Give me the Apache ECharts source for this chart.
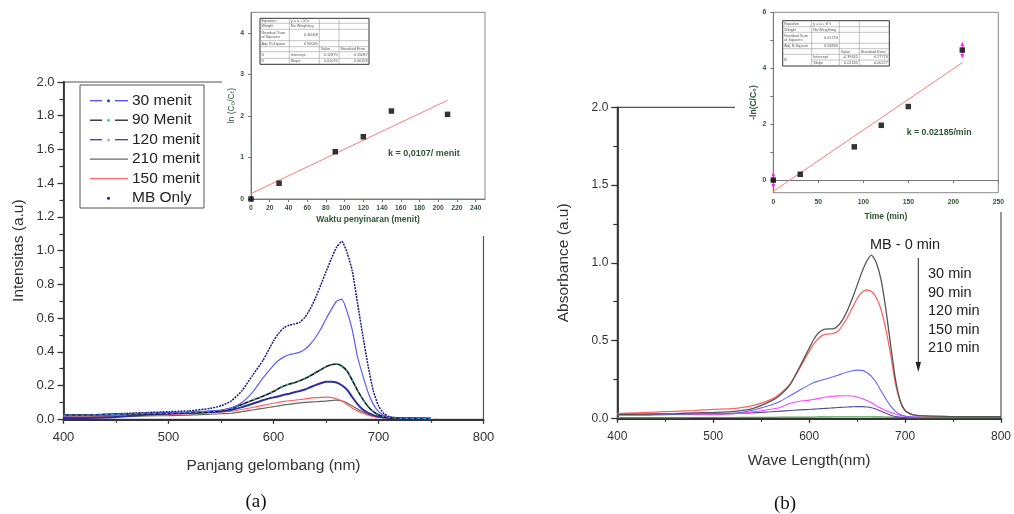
<!DOCTYPE html>
<html>
<head>
<meta charset="utf-8">
<script src="https://cdn.jsdelivr.net/npm/echarts@6/dist/echarts.min.js"></script>
<style>
  html, body { margin: 0; padding: 0; background: #fff; }
  #chart { width: 1014px; height: 514px; }
</style>
</head>
<body>
<div id="chart"></div>
<script>
// ---------- Panel (a): emission spectra vs irradiation time ----------
const wavelengthA = [400,420,440,460,480,500,520,540,550,560,570,580,590,600,605,610,615,620,625,630,635,640,645,650,655,660,665,670,675,680,685,690,695,700,705,710,720,730,740,750];
const mbOnlyA  = [0.025,0.025,0.03,0.035,0.04,0.045,0.05,0.065,0.08,0.11,0.17,0.26,0.35,0.465,0.51,0.543,0.558,0.565,0.575,0.605,0.655,0.72,0.795,0.875,0.95,1.02,1.055,0.99,0.88,0.69,0.5,0.32,0.17,0.08,0.035,0.016,0.008,0.006,0.005,0.005];
const min30A   = [0.02,0.022,0.027,0.032,0.037,0.04,0.043,0.05,0.055,0.068,0.1,0.16,0.245,0.32,0.35,0.37,0.383,0.39,0.398,0.415,0.445,0.485,0.535,0.595,0.65,0.7,0.712,0.64,0.53,0.37,0.26,0.16,0.09,0.045,0.024,0.012,0.008,0.006,0.005,0.004];
const min90A   = [0.025,0.025,0.028,0.03,0.033,0.035,0.04,0.045,0.052,0.065,0.088,0.113,0.137,0.165,0.183,0.198,0.209,0.217,0.228,0.242,0.258,0.276,0.294,0.311,0.323,0.328,0.316,0.286,0.232,0.172,0.12,0.076,0.046,0.027,0.016,0.01,0.006,0.005,0.005,0.004];
const min120A  = [0.008,0.008,0.01,0.018,0.028,0.035,0.038,0.043,0.048,0.057,0.072,0.092,0.113,0.13,0.137,0.145,0.152,0.16,0.168,0.177,0.19,0.203,0.214,0.222,0.223,0.218,0.202,0.176,0.132,0.09,0.058,0.038,0.025,0.017,0.012,0.009,0.006,0.005,0.005,0.004];
const min150A  = [0.02,0.02,0.02,0.022,0.025,0.028,0.032,0.038,0.042,0.048,0.058,0.07,0.083,0.095,0.101,0.106,0.11,0.113,0.117,0.121,0.125,0.128,0.13,0.131,0.13,0.122,0.11,0.088,0.066,0.05,0.036,0.025,0.017,0.012,0.009,0.008,0.006,0.005,0.005,0.004];
const min210A  = [0.015,0.015,0.017,0.018,0.02,0.022,0.025,0.03,0.033,0.036,0.045,0.055,0.065,0.075,0.08,0.085,0.089,0.093,0.097,0.1,0.102,0.104,0.106,0.108,0.111,0.114,0.11,0.097,0.079,0.061,0.045,0.03,0.019,0.012,0.009,0.008,0.006,0.005,0.005,0.004];
const legendNamesA = ['30 menit', '90 Menit', '120 menit', '210 menit', '150 menit', 'MB Only'];

// Kinetics inset (a)
const timeA = [0, 30, 90, 120, 150, 210];
const lnRatioA = [0, 0.38, 1.14, 1.5, 2.12, 2.04];
const fitTimeA = [0, 210];
const fitLineA = [0.13, 2.38];
const kLabelA = 'k = 0,0107/ menit';
const tableA = [
  ['Equation', 'y = a + b*x', '', ''],
  ['Weight', 'No Weighting', '', ''],
  ['Residual Sum\nof Squares', '0.30068', '', ''],
  ['Adj. R-Square', '0.90045', '', ''],
  ['', '', 'Value', 'Standard Error'],
  ['D', 'Intercept', '0.12875', '0.15087'],
  ['D', 'Slope', '0.01076', '0.00158']
];

// ---------- Panel (b): absorbance spectra vs time ----------
const wavelengthB = [400,420,440,460,480,500,520,540,560,570,580,590,600,605,610,615,620,625,630,635,640,645,650,655,660,665,670,675,680,685,690,695,700,705,710,720,740,760,780,800];
const mb0B    = [0.025,0.025,0.028,0.03,0.035,0.038,0.043,0.06,0.11,0.15,0.215,0.33,0.45,0.51,0.55,0.57,0.575,0.575,0.595,0.635,0.695,0.77,0.855,0.94,1.01,1.05,1.0,0.89,0.7,0.47,0.25,0.11,0.05,0.03,0.02,0.015,0.012,0.01,0.01,0.01];
const min30B  = [0.03,0.035,0.04,0.045,0.05,0.058,0.062,0.08,0.12,0.16,0.22,0.32,0.43,0.48,0.515,0.537,0.542,0.546,0.56,0.6,0.65,0.71,0.77,0.81,0.825,0.815,0.775,0.7,0.57,0.41,0.22,0.11,0.05,0.03,0.02,0.015,0.012,0.01,0.01,0.01];
const min90B  = [0.02,0.02,0.022,0.025,0.028,0.03,0.032,0.05,0.085,0.11,0.145,0.18,0.215,0.23,0.24,0.25,0.258,0.267,0.277,0.288,0.298,0.306,0.31,0.308,0.295,0.27,0.23,0.175,0.125,0.078,0.045,0.025,0.015,0.01,0.008,0.007,0.006,0.005,0.005,0.005];
const min120B = [0.025,0.025,0.025,0.025,0.025,0.025,0.03,0.04,0.058,0.07,0.095,0.11,0.117,0.122,0.128,0.134,0.139,0.142,0.144,0.145,0.145,0.143,0.137,0.128,0.115,0.1,0.08,0.065,0.05,0.038,0.028,0.018,0.012,0.009,0.008,0.007,0.006,0.005,0.005,0.006];
const min150B = [0.03,0.028,0.027,0.026,0.026,0.027,0.03,0.035,0.042,0.046,0.05,0.054,0.057,0.059,0.061,0.063,0.065,0.067,0.069,0.071,0.073,0.074,0.075,0.075,0.073,0.068,0.058,0.045,0.032,0.02,0.012,0.008,0.006,0.005,0.005,0.005,0.005,0.005,0.005,0.005];
const min210B = [0.004,0.004,0.004,0.004,0.005,0.005,0.005,0.006,0.006,0.007,0.007,0.008,0.008,0.008,0.009,0.009,0.009,0.01,0.01,0.01,0.01,0.01,0.01,0.01,0.01,0.01,0.009,0.009,0.008,0.007,0.006,0.005,0.005,0.004,0.004,0.004,0.004,0.004,0.004,0.004];
const headLabelB = 'MB - 0 min';
const timeLabelsB = ['30 min', '90 min', '120 min', '150 min', '210 min'];

// Kinetics inset (b)
const timeB = [0, 30, 90, 120, 150, 210];
const lnRatioB = [0, 0.21, 1.19, 1.96, 2.63, 4.65];
const fitTimeB = [0, 210];
const fitLineB = [-0.4, 4.2];
const errTimeB = [0, 210];
const errCenterB = [0, 4.65];
const errHalfB = [0.28, 0.28];
const kLabelB = 'k = 0.02185/min';
const tableB = [
  ['Equation', 'y = a + b*x', '', ''],
  ['Weight', 'No Weighting', '', ''],
  ['Residual Sum\nof Squares', '0.61718', '', ''],
  ['Adj. R-Square', '0.94836', '', ''],
  ['', '', 'Value', 'Standard Error'],
  ['B', 'Intercept', '-0.39445', '0.27776'],
  ['', 'Slope', '0.02185', '0.00227']
];

const SANS = '"Liberation Sans", Arial, Helvetica, sans-serif';
const SUBS = '"Liberation Sans", "DejaVu Sans", Arial, sans-serif';
const GREEN = '#2f5530';

const pairs = (xs, ys) => xs.map((x, i) => [x, ys[i]]);

function mainX(grid, nameGap, name, fontSize) {
  return {
    type: 'value', gridIndex: grid, min: 400, max: 800, interval: 100,
    name: name, nameLocation: 'middle', nameGap: nameGap,
    nameTextStyle: { fontFamily: SANS, fontSize: 15.5, color: '#333' },
    axisLine: { show: true, lineStyle: { color: '#333', width: 1.8 } },
    axisTick: { show: true, inside: false, length: 4.5, lineStyle: { color: '#333', width: 1.3 } },
    minorTick: { show: true, splitNumber: 2, length: 3.5, lineStyle: { color: '#333', width: 1.2 } },
    axisLabel: { fontFamily: SANS, fontSize: fontSize, color: '#333', margin: 12 },
    splitLine: { show: false }
  };
}
function mainY(grid, interval, nameGap, name, fontSize, minor) {
  return {
    type: 'value', gridIndex: grid, min: 0, max: 2.0, interval: interval,
    name: name, nameLocation: 'middle', nameGap: nameGap, nameRotate: 90,
    nameTextStyle: { fontFamily: SANS, fontSize: 15.5, color: '#333' },
    axisLine: { show: true, lineStyle: { color: '#333', width: 1.8 } },
    axisTick: { show: true, inside: false, length: 6, lineStyle: { color: '#333', width: 1.3 } },
    minorTick: { show: true, splitNumber: minor, length: 4, lineStyle: { color: '#333', width: 1.2 } },
    axisLabel: { fontFamily: SANS, fontSize: fontSize, color: '#333', margin: 9, formatter: v => v.toFixed(1) },
    splitLine: { show: false }
  };
}
function insetAxisStyle() {
  return {
    axisLine: { show: true, lineStyle: { color: '#777', width: 1 } },
    axisTick: { show: true, inside: false, length: 3, lineStyle: { color: '#777', width: 1 } },
    splitLine: { show: false }
  };
}

function lineSeries(x, y, name, xs, ys, color, width, extra) {
  return Object.assign({
    type: 'line', name: name, xAxisIndex: x, yAxisIndex: y,
    data: pairs(xs, ys), showSymbol: false, symbol: 'none',
    smooth: 0.2, z: 2,
    lineStyle: { color: color, width: width }
  }, extra || {});
}

// Stats tables drawn in the insets
function tableGraphic(colX, rowY, cells, mergeFirstCol) {
  const els = [];
  const L = colX[0], R = colX[colX.length - 1], T = rowY[0], B = rowY[rowY.length - 1];
  els.push({ type: 'rect', z: 20, shape: { x: L, y: T, width: R - L, height: B - T },
    style: { fill: '#fff', stroke: '#333', lineWidth: 1 } });
  for (let i = 1; i < rowY.length - 1; i++) {
    const startX = (mergeFirstCol && i === rowY.length - 2) ? colX[1] : L;
    els.push({ type: 'line', z: 21, shape: { x1: startX, y1: rowY[i], x2: R, y2: rowY[i] },
      style: { stroke: '#9a9a9a', lineWidth: 0.6 } });
  }
  for (let j = 1; j < colX.length - 1; j++) {
    els.push({ type: 'line', z: 21, shape: { x1: colX[j], y1: T, x2: colX[j], y2: B },
      style: { stroke: '#9a9a9a', lineWidth: 0.6 } });
  }
  cells.forEach((row, i) => row.forEach((t, j) => {
    if (!t) return;
    let cy = (rowY[i] + rowY[i + 1]) / 2;
    if (mergeFirstCol && j === 0 && i === rowY.length - 3) cy = rowY[i + 1];
    const numeric = /^-?[0-9.]+$/.test(t);
    els.push({ type: 'text', z: 22,
      x: numeric ? colX[j + 1] - 1.5 : colX[j] + 1.5, y: cy,
      style: { text: t, fontSize: 3.8, lineHeight: 4.4, fontFamily: SANS, fill: '#555',
        align: numeric ? 'right' : 'left', verticalAlign: 'middle' } });
  }));
  return els;
}

// Custom legend for panel (a)
const legendStylesA = [
  { color: '#4a4aff', sym: 'dot', symColor: '#2f2fff' },
  { color: '#222222', sym: 'dot', symColor: '#22d5d5' },
  { color: '#3c3ca8', sym: 'tri', symColor: '#b0b0b0' },
  { color: '#666666', sym: null },
  { color: '#ff6a6a', sym: null },
  { color: null, sym: 'dot', symColor: '#1c1c7a' }
];
function legendGraphicA() {
  const els = [{ type: 'rect', z: 10, shape: { x: 80, y: 85, width: 124, height: 123 },
    style: { fill: '#fff', stroke: '#555', lineWidth: 1 } }];
  legendNamesA.forEach((name, i) => {
    const st = legendStylesA[i];
    const cy = 100.7 + i * 19.5;
    if (st.color) {
      if (st.sym) {
        els.push({ type: 'line', z: 11, shape: { x1: 90, y1: cy, x2: 102, y2: cy },
          style: { stroke: st.color, lineWidth: 1.3 } });
        els.push({ type: 'line', z: 11, shape: { x1: 115, y1: cy, x2: 128, y2: cy },
          style: { stroke: st.color, lineWidth: 1.3 } });
      } else {
        els.push({ type: 'line', z: 11, shape: { x1: 90, y1: cy, x2: 128, y2: cy },
          style: { stroke: st.color, lineWidth: 1.2 } });
      }
    }
    if (st.sym === 'dot') {
      els.push({ type: 'circle', z: 12, shape: { cx: 108.5, cy: cy, r: 1.5 }, style: { fill: st.symColor } });
    } else if (st.sym === 'tri') {
      els.push({ type: 'polygon', z: 12, shape: { points: [[106.5, cy + 1.5], [110.5, cy + 1.5], [108.5, cy - 2]] },
        style: { fill: st.symColor } });
    }
    els.push({ type: 'text', z: 12, x: 132, y: cy,
      style: { text: name, fontSize: 15.5, fontFamily: SANS, fill: '#222', verticalAlign: 'middle' } });
  });
  return els;
}

function annotationGraphicB() {
  const els = [];
  els.push({ type: 'text', z: 12, x: 870, y: 245,
    style: { text: headLabelB, fontSize: 14.5, fontFamily: SANS, fill: '#222', verticalAlign: 'middle' } });
  timeLabelsB.forEach((t, i) => {
    els.push({ type: 'text', z: 12, x: 928, y: 274 + i * 18.6,
      style: { text: t, fontSize: 14.5, fontFamily: SANS, fill: '#222', verticalAlign: 'middle' } });
  });
  els.push({ type: 'line', z: 12, shape: { x1: 918.3, y1: 258, x2: 918.3, y2: 364 },
    style: { stroke: '#222', lineWidth: 1 } });
  els.push({ type: 'polygon', z: 12, shape: { points: [[915.6, 362], [921, 362], [918.3, 372]] },
    style: { fill: '#222' } });
  return els;
}

const chart = echarts.init(document.getElementById('chart'), null, { renderer: 'canvas' });

const option = {
  animation: false,
  backgroundColor: '#fff',
  grid: [
    { left: 63.5, top: 82, width: 420, height: 337.3, show: true, borderColor: '#555', borderWidth: 1.2, backgroundColor: 'transparent', z: 0 },
    { left: 251, top: 12.3, width: 234, height: 186.7, show: true, borderColor: '#888', borderWidth: 1, backgroundColor: '#fff', z: 4 },
    { left: 617.3, top: 107.3, width: 387, height: 311, show: true, borderColor: '#555', borderWidth: 1.2, backgroundColor: 'transparent', z: 0 },
    { left: 773.3, top: 12.3, width: 225, height: 180.4, show: true, borderColor: '#888', borderWidth: 1, backgroundColor: '#fff', z: 4 }
  ],
  xAxis: [
    mainX(0, 38, 'Panjang gelombang (nm)', 13),
    Object.assign({
      type: 'value', gridIndex: 1, min: 0, max: 250, z: 5,
      name: 'Waktu penyinaran (menit)', nameLocation: 'middle', nameGap: 16,
      nameTextStyle: { fontFamily: SANS, fontSize: 8.5, fontWeight: 'bold', color: GREEN },
      axisLabel: { fontFamily: SANS, fontSize: 6.8, fontWeight: 'bold', color: GREEN, margin: 6,
        customValues: [0,20,40,60,80,100,120,140,160,180,200,220,240] }
    }, insetAxisStyle(), { axisTick: { show: true, length: 3, lineStyle: { color: '#777' },
        customValues: [0,20,40,60,80,100,120,140,160,180,200,220,240] } }),
    mainX(2, 34, 'Wave Length(nm)', 12),
    Object.assign({
      type: 'value', gridIndex: 3, min: 0, max: 250, interval: 50, z: 5,
      name: 'Time (min)', nameLocation: 'middle', nameGap: 19,
      nameTextStyle: { fontFamily: SANS, fontSize: 8.5, fontWeight: 'bold', color: GREEN },
      axisLabel: { fontFamily: SANS, fontSize: 6.8, fontWeight: 'bold', color: GREEN, margin: 6 }
    }, insetAxisStyle())
  ],
  yAxis: [
    mainY(0, 0.2, 37, 'Intensitas (a.u)', 13, 2),
    Object.assign({
      type: 'value', gridIndex: 1, min: 0, max: 4.5, z: 5,
      name: 'ln (C\u2080/C\u209c)', nameLocation: 'middle', nameGap: 15, nameRotate: 90,
      nameTextStyle: { fontFamily: SUBS, fontSize: 8.5, color: GREEN },
      axisLabel: { fontFamily: SANS, fontSize: 6.8, fontWeight: 'bold', color: GREEN, margin: 7,
        customValues: [0, 1, 2, 3, 4] }
    }, insetAxisStyle(), { axisTick: { show: true, length: 3, lineStyle: { color: '#777' },
        customValues: [0, 1, 2, 3, 4] } }),
    mainY(2, 0.5, 46, 'Absorbance (a.u)', 12, 2),
    Object.assign({
      type: 'value', gridIndex: 3, min: -0.45, max: 6, z: 5,
      name: '-ln(C/C\u2080)', nameLocation: 'middle', nameGap: 15, nameRotate: 90,
      nameTextStyle: { fontFamily: SUBS, fontSize: 8.5, fontWeight: 'bold', color: GREEN },
      axisLabel: { fontFamily: SANS, fontSize: 6.8, fontWeight: 'bold', color: GREEN, margin: 7,
        customValues: [0, 2, 4, 6] }
    }, insetAxisStyle(), { axisTick: { show: true, length: 3, lineStyle: { color: '#777' },
        customValues: [0, 1, 2, 3, 4, 5, 6] } })
  ],
  series: [
    // panel (a) spectra
    lineSeries(0, 0, '210 menit', wavelengthA, min210A, '#666666', 1.2),
    lineSeries(0, 0, '150 menit', wavelengthA, min150A, '#ff5a5a', 1.2),
    lineSeries(0, 0, '120 menit', wavelengthA, min120A, '#2e2e9e', 2),
    lineSeries(0, 0, '90 Menit', wavelengthA, min90A, '#1a1a1a', 1.6),
    lineSeries(0, 0, '90 Menit markers', wavelengthA, min90A, '#1fc4c4', 1.2,
      { lineStyle: { color: '#1fc4c4', width: 1.1, type: [2, 4] }, z: 3 }),
    lineSeries(0, 0, '30 menit', wavelengthA, min30A, '#5c5cff', 1.2),
    lineSeries(0, 0, 'MB Only', wavelengthA, mbOnlyA, '#1c1c7a', 1.5,
      { lineStyle: { color: '#1c1c7a', width: 1.5, type: [2, 1] } }),

    // inset (a)
    { type: 'line', xAxisIndex: 1, yAxisIndex: 1, z: 6, data: pairs(fitTimeA, fitLineA),
      showSymbol: false, symbol: 'none', lineStyle: { color: '#ff7b7b', width: 1 } },
    { type: 'scatter', xAxisIndex: 1, yAxisIndex: 1, z: 7, data: pairs(timeA, lnRatioA),
      symbol: 'rect', symbolSize: 5.5, itemStyle: { color: '#000' } },

    // panel (b) spectra
    lineSeries(2, 2, '210 min', wavelengthB, min210B, '#4fa04f', 1.2),
    lineSeries(2, 2, '150 min', wavelengthB, min150B, '#4d4d9a', 1.1),
    lineSeries(2, 2, '120 min', wavelengthB, min120B, '#ff44ff', 1.1),
    lineSeries(2, 2, '90 min', wavelengthB, min90B, '#6464ff', 1.1),
    lineSeries(2, 2, '30 min', wavelengthB, min30B, '#ff6464', 1.3),
    lineSeries(2, 2, '0 min', wavelengthB, mb0B, '#555555', 1.3),

    // inset (b)
    { type: 'line', xAxisIndex: 3, yAxisIndex: 3, z: 6, data: pairs(fitTimeB, fitLineB),
      showSymbol: false, symbol: 'none', lineStyle: { color: '#ff7b7b', width: 1 } },
    { type: 'custom', xAxisIndex: 3, yAxisIndex: 3, z: 6, clip: false,
      data: errTimeB.map((t, i) => [t, errCenterB[i], errHalfB[i]]),
      renderItem: function (params, api) {
        const x = api.value(0), y = api.value(1), e = api.value(2);
        const top = api.coord([x, y + e]);
        const bot = api.coord([x, y - e]);
        const c = '#ff22ff';
        return { type: 'group', children: [
          { type: 'line', shape: { x1: top[0], y1: top[1], x2: bot[0], y2: bot[1] }, style: { stroke: c, lineWidth: 1 } },
          { type: 'polygon', shape: { points: [[top[0] - 2, top[1] + 4], [top[0] + 2, top[1] + 4], [top[0], top[1]]] }, style: { fill: c } },
          { type: 'polygon', shape: { points: [[bot[0] - 2, bot[1] - 4], [bot[0] + 2, bot[1] - 4], [bot[0], bot[1]]] }, style: { fill: c } }
        ] };
      }
    },
    { type: 'scatter', xAxisIndex: 3, yAxisIndex: 3, z: 7, data: pairs(timeB, lnRatioB),
      symbol: 'rect', symbolSize: 5.5, itemStyle: { color: '#000' } }
  ],
  graphic: [].concat(
    // white backgrounds behind the two insets
    [{ type: 'rect', z: 3, shape: { x: 222, y: 0, width: 283, height: 236 }, style: { fill: '#fff' } },
     { type: 'rect', z: 3, shape: { x: 735, y: 0, width: 279, height: 212 }, style: { fill: '#fff' } }],
    legendGraphicA(),
    annotationGraphicB(),
    tableGraphic([260, 289.3, 319.3, 339, 369], [18.3, 23.3, 29.3, 40.7, 46.7, 51.7, 58.3, 64.3], tableA, false),
    tableGraphic([782.7, 811.7, 839.3, 859.3, 889.3], [20.7, 26.7, 32.3, 43.3, 48.7, 54.3, 60, 66], tableB, true),
    [{ type: 'text', z: 12, x: 388, y: 154, style: { text: kLabelA, fontSize: 9, fontWeight: 'bold', fontFamily: SANS, fill: GREEN, verticalAlign: 'middle' } },
     { type: 'text', z: 12, x: 906.7, y: 132.7, style: { text: kLabelB, fontSize: 8.8, fontWeight: 'bold', fontFamily: SANS, fill: GREEN, verticalAlign: 'middle' } },
     { type: 'text', z: 12, x: 256, y: 502, style: { text: '(a)', fontSize: 19, fontFamily: '"Liberation Serif", "Times New Roman", serif', fill: '#111', align: 'center', verticalAlign: 'middle' } },
     { type: 'text', z: 12, x: 785, y: 504, style: { text: '(b)', fontSize: 19, fontFamily: '"Liberation Serif", "Times New Roman", serif', fill: '#111', align: 'center', verticalAlign: 'middle' } }]
  )
};

chart.setOption(option);
</script>
</body>
</html>
